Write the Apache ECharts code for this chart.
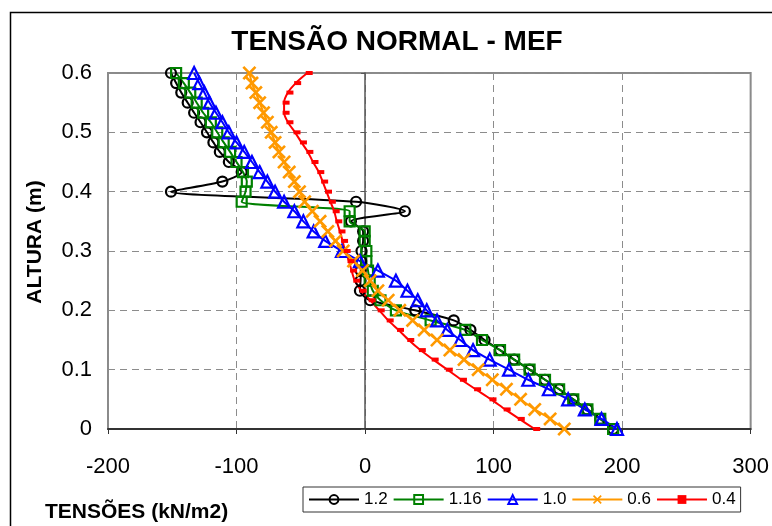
<!DOCTYPE html>
<html><head><meta charset="utf-8">
<script src="https://cdn.jsdelivr.net/npm/echarts@6/dist/echarts.min.js"></script>
<style>html,body{margin:0;padding:0;background:#fff}#c{width:772px;height:526px}</style>
</head><body><div id="c"></div>
<script>
const heights = [0,0.017,0.033,0.05,0.067,0.083,0.1,0.117,0.133,0.15,0.167,0.183,0.2,0.217,0.233,0.25,0.267,0.283,0.3,0.317,0.333,0.35,0.367,0.383,0.4,0.417,0.433,0.45,0.467,0.483,0.5,0.517,0.533,0.55,0.567,0.583,0.6];
const seriesNames = ['1.2','1.16','1.0','0.6','0.4'];
const s12  = [193,183,173,162,151,140,128,116,105,93,82,69,39,4,-4,-3.5,-3.3,-3,-2.8,-1.5,-1.5,-11,31,-7,-151,-111,-96,-106,-113,-118,-123,-128,-133,-138,-143,-147,-151];
const s116 = [193,183,173,162,151,140,128,116,105,91,78,51,24,12,6,3.6,2.3,1,1,-0.3,-0.3,-12,-12,-96,-93,-92,-95,-100,-105,-110,-115,-120,-126,-131,-136,-141,-147];
const s10  = [196,184,171,158,143,127,112,97,84,74,64,56,48,41,33,24,10,-4,-18,-31,-40,-48,-55,-63,-70,-76,-82,-88,-94,-100,-106,-111,-116,-121,-125,-129,-133];
const s06  = [155,144,132,121,110,99,88,77,66,56,46,37,27,18,10,4,-2,-9,-17,-23,-29,-35,-41,-47,-51,-55,-59,-63,-67,-70,-73,-76,-79,-82,-85,-88,-90];
const s04  = [132,120,109,98,86,75,64,53,43,34,26,18,11,4,-3,-8,-10.5,-12.5,-15.5,-17.5,-19.5,-22,-24,-27,-30,-33,-36,-40.5,-44.5,-49.5,-54.5,-60,-63,-63,-60,-54,-45];
const xMin = -200, xMax = 300, xStep = 100;
const yMin = 0, yMax = 0.6, yStep = 0.1;
const titleText = 'TENSÃO NORMAL - MEF';
const yName = 'ALTURA (m)';
const xName = 'TENSÕES (kN/m2)';

const FONT = '"Liberation Sans", Arial, sans-serif';
const xPath = 'path://M0,1.6 L1.6,0 L6,4.4 L10.4,0 L12,1.6 L7.6,6 L12,10.4 L10.4,12 L6,7.6 L1.6,12 L0,10.4 L4.4,6 Z';
const allVals = [s12, s116, s10, s06, s04];
const styles = [
  {color:'#000000', symbol:'circle', size:10, hollow:true},
  {color:'#008000', symbol:'rect', size:10, hollow:true},
  {color:'#0000FF', symbol:'triangle', size:12, hollow:true},
  {color:'#FF9900', symbol:xPath, size:14, hollow:false},
  {color:'#FF0000', symbol:'rect', size:[7,4], hollow:false, offset:[2,0]}
];
function pairs(vals){ return vals.map((v,i)=>[v, heights[i]]); }

const series = allVals.map((vals, k) => {
  const st = styles[k];
  return {
    name: seriesNames[k], type:'line', yAxisIndex:0, smooth:0.25,
    data: pairs(vals),
    symbol: st.symbol, symbolSize: st.size, symbolOffset: st.offset || [0,0],
    showAllSymbol: true,
    lineStyle: {color: st.color, width: 2},
    itemStyle: st.hollow ? {color:'rgba(255,255,255,0)', borderColor: st.color, borderWidth: 2.2}
                         : {color: st.color, borderWidth: 0},
    emphasis: {disabled:true},
    animation:false
  };
});

const chart = echarts.init(document.getElementById('c'));
chart.setOption({
  animation:false,
  backgroundColor:'#ffffff',
  grid:{left:108, right:15, top:73, bottom:97, show:true, borderColor:'#8a8a8a', borderWidth:2},
  xAxis:{type:'value', min:xMin, max:xMax, interval:xStep,
    axisLine:{onZero:false, lineStyle:{color:'#333', width:2}},
    axisTick:{show:true, length:5, lineStyle:{color:'#333', width:1}},
    axisLabel:{fontFamily:FONT, fontSize:22, color:'#000', margin:27},
    splitLine:{show:true, lineStyle:{color:'#8c8c8c', type:[7,5], width:1}}
  },
  yAxis:[
    {type:'value', min:yMin, max:yMax, interval:yStep, position:'left',
     axisLine:{show:false, onZero:false}, axisTick:{show:false},
     axisLabel:{fontFamily:FONT, fontSize:22, color:'#000', margin:16,
       formatter: v => v===0 ? '0' : v.toFixed(1)},
     splitLine:{show:true, lineStyle:{color:'#8c8c8c', type:[7,5], width:1}}},
    {type:'value', min:yMin, max:yMax, interval:yStep, position:'left',
     axisLine:{show:true, onZero:true, onZeroAxisIndex:0, lineStyle:{color:'#555', width:1.5}},
     axisTick:{show:true, length:4, lineStyle:{color:'#555'}},
     axisLabel:{show:false}, splitLine:{show:false}}
  ],
  legend:{left:303, top:487, orient:'horizontal', itemWidth:50, itemHeight:11, itemGap:5,
    padding:[4,5], borderColor:'#333', borderWidth:1, data:seriesNames,
    textStyle:{fontFamily:FONT, fontSize:17, color:'#000'}},
  graphic:[
    {type:'rect', silent:true, shape:{x:10.5, y:12.5, width:900, height:900},
     style:{fill:'none', stroke:'#000', lineWidth:1.5}},
    {type:'text', x:397, y:42, silent:true,
     style:{text:titleText, font:'bold 28px ' + FONT, fill:'#000', align:'center', verticalAlign:'middle'}},
    {type:'text', x:35, y:242, rotation:Math.PI/2, silent:true,
     style:{text:yName, font:'bold 21px ' + FONT, fill:'#000', align:'center', verticalAlign:'middle'}},
    {type:'text', x:45, y:512, silent:true,
     style:{text:xName, font:'bold 21px ' + FONT, fill:'#000', align:'left', verticalAlign:'middle'}}
  ],
  series: series
});
</script></body></html>
